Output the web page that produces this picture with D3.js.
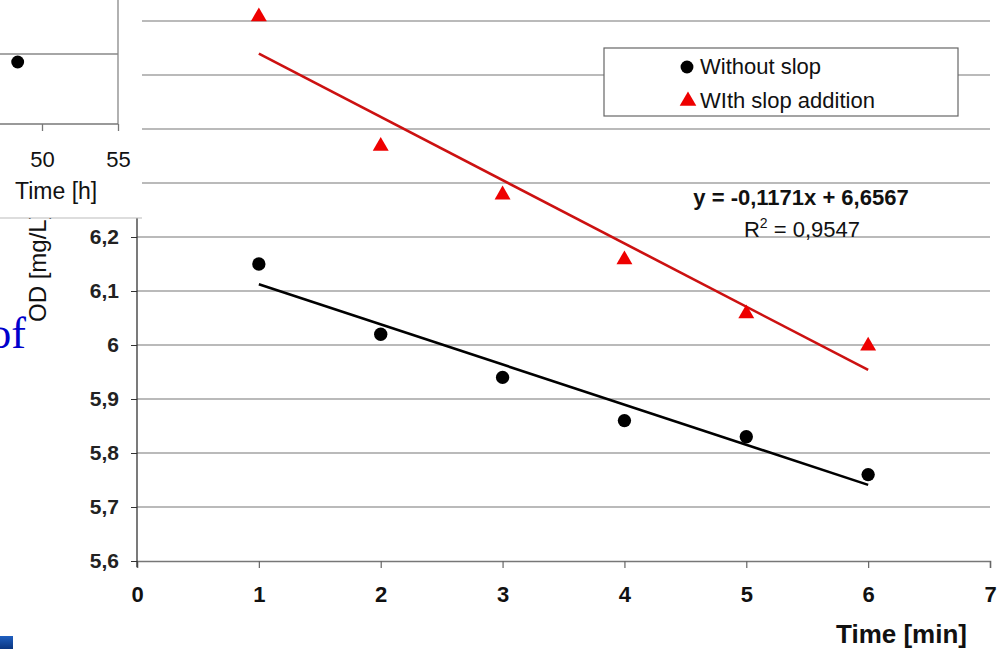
<!DOCTYPE html>
<html><head><meta charset="utf-8">
<script src="https://cdn.jsdelivr.net/npm/d3@7"></script>
<style>body{margin:0;background:#fff;overflow:hidden}svg{display:block}</style>
</head><body>
<svg id="c" width="1001" height="649"></svg>
<script>
const times = [1, 2, 3, 4, 5, 6];
const withoutSlop = [6.15, 6.02, 5.94, 5.86, 5.83, 5.76];
const withSlop = [6.61, 6.37, 6.28, 6.16, 6.06, 6.00];
const xTicks = [0, 1, 2, 3, 4, 5, 6, 7];
const yTicks = [5.6, 5.7, 5.8, 5.9, 6.0, 6.1, 6.2, 6.3, 6.4, 6.5, 6.6];
const yLabelTicks = [5.6, 5.7, 5.8, 5.9, 6.0, 6.1, 6.2];
const seriesNames = ["Without slop", "WIth slop addition"];
const insetTicks = [50, 55];
const insetPoint = [{t: 48.4, v: 1}];

const svg = d3.select("#c");
const FONT = "Liberation Sans, Arial, sans-serif";
const fmt = v => d3.format("")(+v.toFixed(1)).replace(".", ",");

const x = d3.scaleLinear().domain([0, 7]).range([137, 990]);
const y = d3.scaleLinear().domain([5.6, 6.0]).range([561, 345]);

function fit(xs, ys) {
  const mx = d3.mean(xs), my = d3.mean(ys);
  let sxy = 0, sxx = 0, syy = 0;
  xs.forEach((v, i) => { sxy += (v - mx) * (ys[i] - my); sxx += (v - mx) ** 2; syy += (ys[i] - my) ** 2; });
  const m = sxy / sxx, b = my - m * mx;
  return {m, b, r2: (sxy * sxy) / (sxx * syy)};
}

// grid lines
svg.append("g").selectAll("line").data(yTicks.slice(1)).join("line")
  .attr("x1", 137).attr("x2", 990).attr("y1", d => y(d)).attr("y2", d => y(d))
  .attr("stroke", "#777").attr("stroke-width", 1.2);

// axes
const xAxis = svg.append("g").attr("transform", `translate(0,${y(5.6)})`)
  .call(d3.axisBottom(x).tickValues(xTicks).tickSize(7).tickFormat(d3.format("d")));
xAxis.attr("font-size", null);
xAxis.select(".domain").attr("stroke", "#777").attr("stroke-width", 1.5);
xAxis.selectAll(".tick line").attr("stroke", "#666").attr("stroke-width", 1.2);
xAxis.selectAll("text").attr("font-family", FONT).attr("font-weight", "bold")
  .style("font-size", "22px").attr("fill", "#111").attr("y", 41).attr("dy", 0);

const yAxis = svg.append("g").attr("transform", `translate(137,0)`)
  .call(d3.axisLeft(y).tickValues(yLabelTicks).tickSize(6).tickPadding(12).tickFormat(fmt));
yAxis.attr("font-size", null);
yAxis.select(".domain").remove();
svg.append("line").attr("x1", 137).attr("x2", 137).attr("y1", 0).attr("y2", y(5.6) + 6)
  .attr("stroke", "#333").attr("stroke-width", 1.3);
yAxis.selectAll(".tick line").attr("stroke", "#333");
yAxis.selectAll("text").attr("font-family", FONT).attr("font-weight", "bold")
  .style("font-size", "21px").attr("fill", "#222");

// trend lines
const series = [
  {vals: withoutSlop, color: "#000"},
  {vals: withSlop, color: "#cc1111"}
];
series.forEach(s => {
  const f = fit(times, s.vals);
  s.fit = f;
  const x0 = d3.min(times), x1 = d3.max(times);
  svg.append("line").attr("x1", x(x0)).attr("y1", y(f.m * x0 + f.b))
    .attr("x2", x(x1)).attr("y2", y(f.m * x1 + f.b))
    .attr("stroke", s.color).attr("stroke-width", 2.6);
});

// points
svg.append("g").selectAll("path").data(times.map((t, i) => ({t, v: withoutSlop[i]}))).join("path")
  .attr("d", d3.symbol().type(d3.symbolCircle).size(140))
  .attr("transform", d => `translate(${x(d.t)},${y(d.v)})`).attr("fill", "#000");
svg.append("g").selectAll("path").data(times.map((t, i) => ({t, v: withSlop[i]}))).join("path")
  .attr("d", d3.symbol().type(d3.symbolTriangle).size(110))
  .attr("transform", d => `translate(${x(d.t)},${y(d.v) + 1})`).attr("fill", "#ee0000");

// legend
const lg = svg.append("g");
lg.append("rect").attr("x", 604).attr("y", 48).attr("width", 354).attr("height", 68)
  .attr("fill", "#fff").attr("stroke", "#666").attr("stroke-width", 1.2);
lg.append("path").attr("d", d3.symbol().type(d3.symbolCircle).size(130)).attr("transform", "translate(687,67)").attr("fill", "#000");
lg.append("path").attr("d", d3.symbol().type(d3.symbolTriangle).size(120)).attr("transform", "translate(688,101)").attr("fill", "#ee0000");
seriesNames.forEach((n, i) => {
  lg.append("text").attr("x", 700).attr("y", 74 + i * 34).text(n)
    .attr("font-family", FONT).attr("font-size", 22).attr("fill", "#111");
});

// equation
const rf = series[1].fit;
const eq = `y = ${rf.m.toFixed(4).replace(".", ",")}x + ${rf.b.toFixed(4).replace(".", ",")}`;
svg.append("text").attr("x", 801).attr("y", 205).attr("text-anchor", "middle").text(eq)
  .attr("font-family", FONT).attr("font-weight", "bold").attr("font-size", 22).attr("fill", "#111");
const r2t = svg.append("text").attr("x", 802).attr("y", 237).attr("text-anchor", "middle")
  .attr("font-family", FONT).attr("font-size", 22).attr("fill", "#111");
r2t.append("tspan").text("R");
r2t.append("tspan").text("2").attr("font-size", 14).attr("dy", -9);
r2t.append("tspan").text(" = " + rf.r2.toFixed(4).replace(".", ",")).attr("dy", 9);

// x axis title
svg.append("text").attr("x", 967).attr("y", 643).attr("text-anchor", "end").text("Time [min]")
  .attr("font-family", FONT).attr("font-weight", "bold").attr("font-size", 26).attr("fill", "#111");

// y axis title (partially hidden)
svg.append("text").attr("transform", "translate(46,322) rotate(-90)").text("OD [mg/L]")
  .attr("font-family", FONT).attr("font-size", 24).attr("fill", "#111");

// overlapping blue text fragment
svg.append("text").attr("x", 26).attr("y", 348).attr("text-anchor", "end").text("of")
  .attr("font-family", "Liberation Serif, Times New Roman, serif").attr("font-size", 44).attr("fill", "#0000cc");

// blue square
const grad = svg.append("defs").append("linearGradient").attr("id", "bg").attr("x1", 0).attr("y1", 0).attr("x2", 0).attr("y2", 1);
grad.append("stop").attr("offset", "0").attr("stop-color", "#1f5fc0");
grad.append("stop").attr("offset", "1").attr("stop-color", "#0a3580");
svg.append("rect").attr("x", 0).attr("y", 636).attr("width", 13).attr("height", 13).attr("fill", "url(#bg)");

// inset (another chart overlapping top-left)
const ins = svg.append("g");
ins.append("rect").attr("x", 0).attr("y", 0).attr("width", 142).attr("height", 218).attr("fill", "#fff");
ins.append("line").attr("x1", 0).attr("x2", 142).attr("y1", 218).attr("y2", 218).attr("stroke", "#bbb");
const ix = d3.scaleLinear().domain([45, 55]).range([-34, 118]);
ins.append("line").attr("x1", 0).attr("x2", 118).attr("y1", 54).attr("y2", 54).attr("stroke", "#888").attr("stroke-width", 1.3);
ins.append("line").attr("x1", 118).attr("x2", 118).attr("y1", 0).attr("y2", 124).attr("stroke", "#888").attr("stroke-width", 1.3);
const iax = ins.append("g").attr("transform", "translate(0,124)")
  .call(d3.axisBottom(ix).tickValues(insetTicks).tickSize(7).tickFormat(d3.format("d")));
iax.attr("font-size", null);
iax.select(".domain").remove();
ins.append("line").attr("x1", 0).attr("x2", 118).attr("y1", 124).attr("y2", 124).attr("stroke", "#777").attr("stroke-width", 1.5);
iax.selectAll(".tick line").attr("stroke", "#777").attr("stroke-width", 1.3);
iax.selectAll("text").attr("font-family", FONT).style("font-size", "22px").attr("fill", "#111")
  .attr("y", 43).attr("dy", 0);
ins.append("text").attr("x", 15).attr("y", 199).text("Time [h]")
  .attr("font-family", FONT).attr("font-size", 23).attr("fill", "#111");
ins.selectAll("path.pt").data(insetPoint).join("path").attr("class", "pt")
  .attr("d", d3.symbol().type(d3.symbolCircle).size(130))
  .attr("transform", d => `translate(${ix(d.t)},62)`).attr("fill", "#000");
</script>
</body></html>
